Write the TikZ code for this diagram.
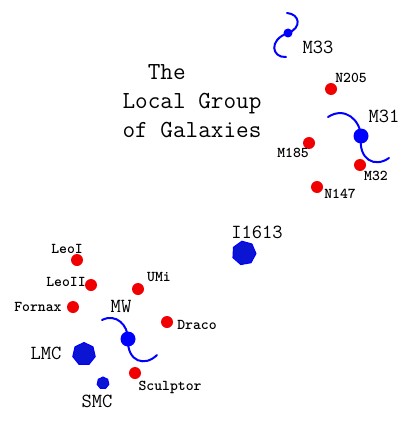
\documentclass[tikz,border=0pt]{standalone}
\usepackage{fontspec}
\newfontfamily\dwarffont{Latin Modern Mono Light}
\usetikzlibrary{positioning, shapes.geometric}
\definecolor{dwarfred}{RGB}{240,0,0}
\definecolor{spiralblue}{RGB}{0,0,255}
\definecolor{blobblue}{RGB}{10,20,210}
\tikzstyle{dwarf}=[circle, fill=dwarfred, inner sep=0pt, minimum size=12pt]
\tikzstyle{bulge}=[circle, fill=spiralblue, inner sep=0pt]
\tikzstyle{blob}=[regular polygon, regular polygon sides=7, fill=blobblue, draw=spiralblue, line width=1pt, inner sep=0pt]
\tikzstyle{arm}=[draw=spiralblue, line width=2pt, line cap=round]
\tikzstyle{small}=[inner sep=0pt, font=\dwarffont\bfseries\fontsize{15}{15}\selectfont]
\tikzstyle{large}=[inner sep=0pt, font=\ttfamily\fontsize{20}{20}\selectfont]
\tikzstyle{title}=[inner sep=0pt, align=left, font=\ttfamily\fontsize{24.5}{29}\selectfont]

\begin{document}
\begin{tikzpicture}[x=1pt, y=-1pt]
    \useasboundingbox (0,0) rectangle (410,428);
    %Title
    \node[title] (title) at (192,101) {\phantom{Lo}The\\Local Group\\of Galaxies};

    %Dwarf companions, red
    \foreach \id/\x/\y/\txt/\lx/\ly in {
        n205/331/89/N205/351/78,
        m185/309/143/M185/293/153,
        m32/360/165/M32/376/176,
        n147/317/187/N147/340/194,
        leoi/77/260/LeoI/67/249,
        leoii/91/285/LeoII/66/282,
        umi/138/289/UMi/159/277,
        fornax/73/307/Fornax/38/307,
        draco/167/322/Draco/197/325,
        sculptor/135/373/Sculptor/170/387}{
        \node[dwarf] (\id) at (\x,\y) {};
        \node[small] (\id-lbl) at (\lx,\ly) {\txt};
    }

    %Spirals and big irregulars, blue
    \node[bulge, minimum size=9pt] (m33) at (288,33) {};
    \node[large] (m33-lbl) at (318,47) {M33};
    \node[bulge, minimum size=15pt] (m31) at (361,136) {};
    \node[large] (m31-lbl) at (384,116) {M31};
    \node[bulge, minimum size=15pt] (mw) at (128,339) {};
    \node[large] (mw-lbl) at (121,306) {MW};
    \node[blob, minimum size=23pt] (lmc) at (84,354) {};
    \node[large] (lmc-lbl) at (46,353) {LMC};
    \node[blob, minimum size=12pt] (smc) at (103,383) {};
    \node[large] (smc-lbl) at (97,401) {SMC};
    \node[blob, minimum size=24pt, rotate=10] (i1613) at (244,253) {};
    \node[large] (i1613-lbl) at (257,232) {I1613};

    %Arm ends
    \coordinate (m33-a) at (287,13);
    \coordinate (m33-b) at (286,57);
    \coordinate (m31-a) at (328,117);
    \coordinate (m31-b) at (389,158);
    \coordinate (mw-a) at (102,320);
    \coordinate (mw-b) at (157,355);

    \draw[arm] (m33-a) .. controls (300,14) and (302,28) .. (m33.center);
    \draw[arm] (m33.center) .. controls (268,40) and (272,58) .. (m33-b);
    \draw[arm] (m31-a) .. controls (345,106) and (360,120) .. (m31.center);
    \draw[arm] (m31.center) .. controls (358,160) and (375,168) .. (m31-b);
    \draw[arm] (mw-a) .. controls (116,313) and (128,325) .. (mw.center);
    \draw[arm] (mw.center) .. controls (127,362) and (145,367) .. (mw-b);
\end{tikzpicture}
\end{document}
